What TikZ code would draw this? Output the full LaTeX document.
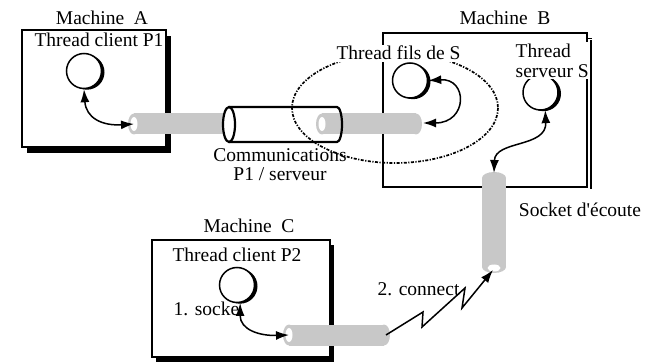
\documentclass[tikz,border=0pt]{standalone}
\usepackage{fontspec}
\setmainfont{Liberation Serif}
\usetikzlibrary{arrows.meta,shadows}
\definecolor{tubegrey}{RGB}{200,200,200}
\newcommand\hTube[3]{%
  \fill[tubegrey] (#1+6,#3) ellipse[x radius=6,y radius=10.5];
  \fill[tubegrey] (#1+6,#3-10.5) rectangle (#2,#3+10.5);
  \fill[tubegrey] (#2,#3) ellipse[x radius=6,y radius=10.5];
  \fill[white] (#1+6,#3) ellipse[x radius=3.5,y radius=7];
}
\begin{document}
\begin{tikzpicture}[x=1pt,y=-1pt,
  font=\fontsize{19.5}{20}\selectfont,
  box/.style={draw, fill=white, line width=1.4pt, inner sep=0pt},
  thread/.style={circle, draw, fill=white, line width=1.5pt, minimum size=35pt, inner sep=0pt,
    drop shadow={shadow xshift=3pt, shadow yshift=-1.2pt, fill=black, opacity=1}},
  lab/.style={inner sep=1.5pt},
  link/.style={line width=1.5pt, {Latex[length=13pt,width=9pt]}-{Latex[length=13pt,width=9pt]}},
  zig/.style={line width=1.5pt, -{Latex[length=13pt,width=9pt]}},
  loop/.style={line width=1.7pt, dash pattern=on 3pt off 1.5pt on 1.2pt off 1.5pt}
]
\path[use as bounding box] (0,0) rectangle (653,363);

% machines
\node[box, minimum width=144pt, minimum height=117pt,
  drop shadow={shadow xshift=4.5pt, shadow yshift=-6pt, fill=black, opacity=1}] (mA) at (94,88.5) {};
\node[box, minimum width=178pt, minimum height=117pt,
  drop shadow={shadow xshift=4pt, shadow yshift=-5pt, fill=black, opacity=1}] (mC) at (241,298.5) {};
\node[box, minimum width=204pt, minimum height=154pt] (mB) at (485,110) {};
\draw[line width=2.8pt] (591,40) -- (591,189);
\draw[line width=1.4pt] (587,38.5) -- (592,38.5);

% tubes
\hTube{128}{232}{124}
\fill[white] (229,107) -- (337,107) arc[start angle=-90,end angle=90,x radius=5,y radius=17.5] -- (229,142) -- cycle;
\fill[white] (229,124.5) ellipse[x radius=6,y radius=17.5];
\hTube{316}{416}{124}
\draw[line width=2.2pt] (229,107) -- (337,107) arc[start angle=-90,end angle=90,x radius=5,y radius=17.5] -- (229,142);
\draw[line width=2.2pt] (229,124.5) ellipse[x radius=6,y radius=17.5];
\hTube{283}{384}{335}
\fill[tubegrey] (494,178) ellipse[x radius=12,y radius=6];
\fill[tubegrey] (482,178) rectangle (506,267);
\fill[tubegrey] (494,267) ellipse[x radius=12,y radius=6];
\fill[white] (494,268) ellipse[x radius=6.5,y radius=3.5];

\coordinate (t1in) at (134,124);
\coordinate (t2out) at (423,123);
\coordinate (tCin) at (289,335);
\coordinate (tCout) at (386,335);
\coordinate (vtop) at (494,173);
\coordinate (vbot) at (493,270);

% threads
\node[thread] (cA) at (84,71) {};
\node[thread] (cF) at (410,80.5) {};
\node[thread] (cS) at (540.5,92.5) {};
\node[thread] (cC) at (237,285) {};

% dotted loop
\draw[loop] (395,108) ellipse[x radius=103,y radius=55];

% connectors
\draw[link] (cA.south) .. controls (86,118) and (102,126) .. (t1in);
\draw[link] (cF.east) .. controls (468,78) and (468,123) .. (t2out);
\draw[link] (cS.-75) .. controls (547,148) and (495,140) .. (vtop);
\draw[link] (cC.-80) .. controls (240,330) and (260,336) .. (tCin);
\draw[zig] (tCout) -- (423,312) -- (422,327) -- (465,288) -- (462,308) -- (vbot);

% labels
\node[lab, anchor=base] (lA) at (102,25) {Machine\ \ A};
\node[lab, anchor=base] (lPA) at (99,47) {Thread client P1};
\node[lab, anchor=base] (lB) at (505,25) {Machine\ \ B};
\node[lab, anchor=base, fill=white] (lF) at (398.5,60) {Thread fils de S};
\node[lab, anchor=west, fill=white, align=left] (lS) at (514,60.5) {Thread\\serveur S};
\node[lab, align=center, font=\fontsize{19.5}{18.5}\selectfont] (lCom) at (280,164.5) {Communications\\P1 / serveur};
\node[lab, anchor=base] (lSock) at (580,217) {Socket d\textquotesingle\'ecoute};
\node[lab, anchor=base] (lC) at (249,233) {Machine\ \ C};
\node[lab, anchor=base] (lPC) at (237,262) {Thread client P2};
\node[lab, anchor=base west] (l1) at (172,315) {1. socke};
\node[lab, anchor=base west] (l2) at (376,295) {2. connect};
\end{tikzpicture}
\end{document}
